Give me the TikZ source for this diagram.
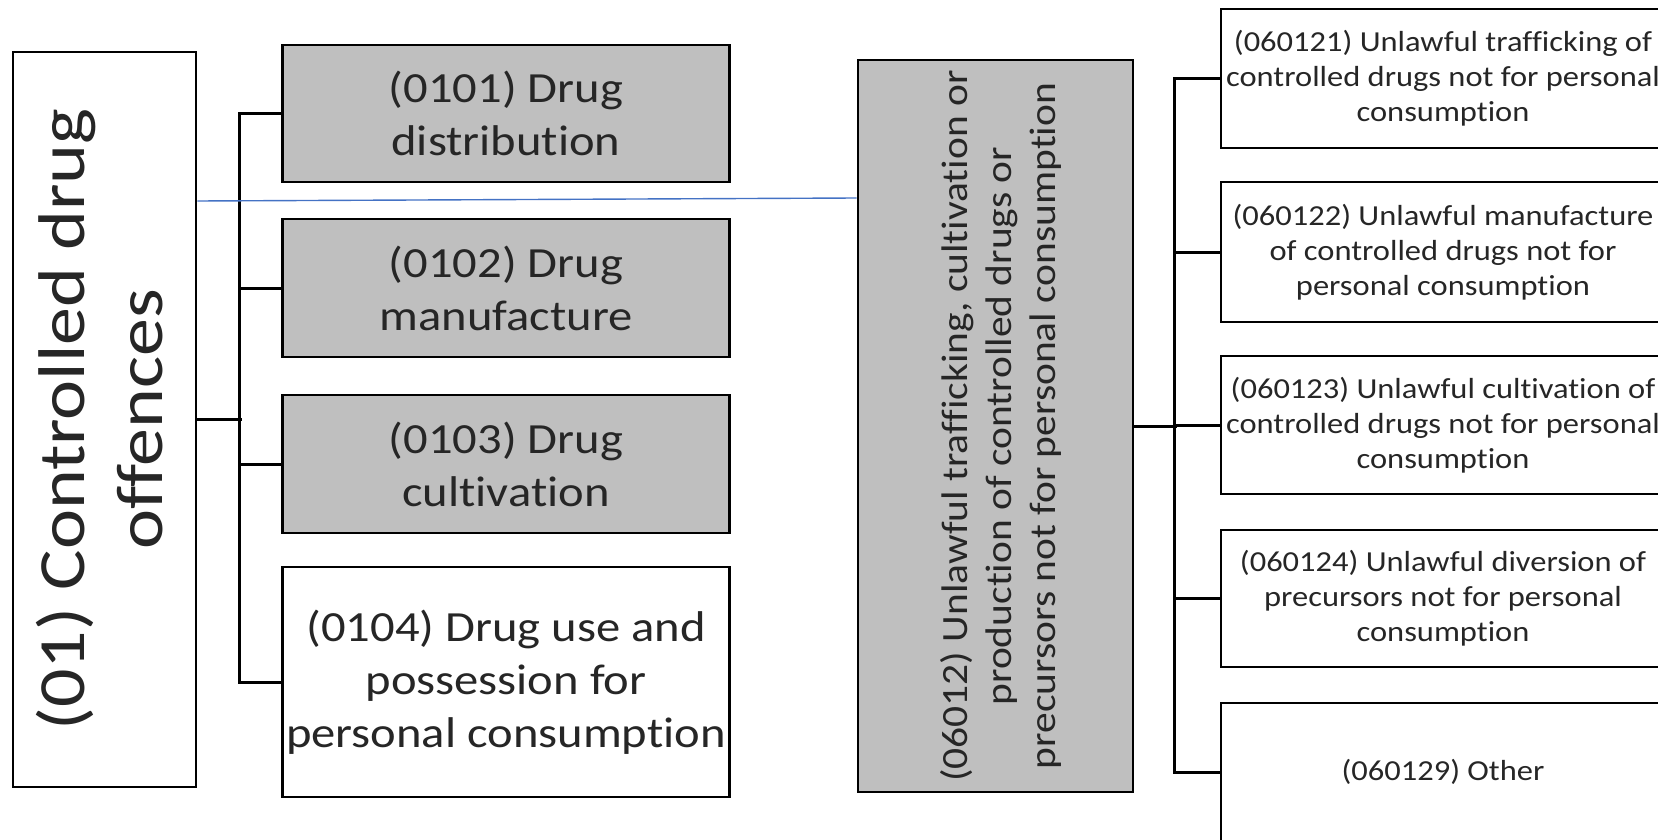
\documentclass[tikz,border=0pt]{standalone}
\usepackage{fontspec}
\setmainfont{Carlito}[Ligatures={NoCommon,NoContextual}]
\newfontfamily\fbig{Carlito}[FakeStretch=1.15,Ligatures={NoCommon,NoContextual}]
\newfontfamily\fmidcol{Carlito}[FakeStretch=1.13,Ligatures={NoCommon,NoContextual}]
\newfontfamily\frot{Carlito}[FakeStretch=1.12,Ligatures={NoCommon,NoContextual}]
\newfontfamily\fright{Carlito}[FakeStretch=1.12,Ligatures={NoCommon,NoContextual}]
\definecolor{boxgray}{HTML}{BFBFBF}
\definecolor{linkblue}{HTML}{4472C4}
\tikzset{
  box/.style={draw=black, line width=2.8pt, inner sep=0pt, align=center, text=black!85},
  graybox/.style={box, fill=boxgray},
  whitebox/.style={box, fill=white},
  tree/.style={draw=black, line width=3pt},
  bluelink/.style={draw=linkblue, line width=1.4pt},
  coltext/.style={font=\fmidcol\fontsize{43}{53}\selectfont},
  righttext/.style={font=\fright\fontsize{29}{35}\selectfont},
}
\begin{document}
\begin{tikzpicture}[x=1pt,y=-1pt]
\useasboundingbox (0,0) rectangle (1658,840);
\clip (0,0) rectangle (1658,840);
% left big box
\node[whitebox, minimum width=183pt, minimum height=735pt] (big) at (104.5,419.5)
  {\hspace*{6pt}\rotatebox{90}{\fbig\fontsize{66}{78}\selectfont\begin{tabular}{@{}c@{}}(01) Controlled drug\\offences\end{tabular}}};
% second column
\node[graybox, coltext, minimum width=447pt, minimum height=137pt] (b1) at (506,113.5) {(0101) Drug\\distribution};
\node[graybox, coltext, minimum width=447pt, minimum height=138pt] (b2) at (506,288) {(0102) Drug\\manufacture};
\node[graybox, coltext, minimum width=447pt, minimum height=138pt] (b3) at (506,464) {(0103) Drug\\cultivation};
\node[whitebox, coltext, minimum width=447pt, minimum height=230pt] (b4) at (506,682) {(0104) Drug use and\\possession for\\personal consumption};
% middle rotated box
\node[graybox, minimum width=275pt, minimum height=732pt] (mid) at (995.5,426)
  {\hspace*{14pt}\rotatebox{90}{\frot\fontsize{37}{44}\selectfont\begin{tabular}{@{}c@{}}(06012) Unlawful trafficking, cultivation or\\production of controlled drugs or\\precursors not for personal consumption\end{tabular}}};
% right column
\node[whitebox, righttext, minimum width=444pt, minimum height=139pt] (r1) at (1443,78.5) {(060121) Unlawful trafficking of\\controlled drugs not for personal\\consumption};
\node[whitebox, righttext, minimum width=444pt, minimum height=140pt] (r2) at (1443,252) {(060122) Unlawful manufacture\\of controlled drugs not for\\personal consumption};
\node[whitebox, righttext, minimum width=444pt, minimum height=138pt] (r3) at (1443,425) {(060123) Unlawful cultivation of\\controlled drugs not for personal\\consumption};
\node[whitebox, righttext, minimum width=444pt, minimum height=137pt] (r4) at (1443,598.5) {(060124) Unlawful diversion of\\precursors not for personal\\consumption};
\node[whitebox, righttext, minimum width=444pt, minimum height=138pt] (r5) at (1443,772) {(060129) Other};
% left tree
\draw[tree] (big.east) -- ++(45,0);
\draw[tree] (b1.west) -- ++(-42,0) |- (b4.west);
\draw[tree] (b2.west) -- ++(-42,0);
\draw[tree] (b3.west) -- ++(-42,0);
% right tree
\draw[tree] (mid.east) -- ++(43,0);
\draw[tree] (r1.west) -- ++(-45,0) |- (r5.west);
\draw[tree] (r2.west) -- ++(-45,0);
\draw[tree] (r3.west) -- ++(-45,0);
\draw[tree] (r4.west) -- ++(-45,0);
% blue link
\draw[bluelink] (big.east |- 0,201) -- (mid.west |- 0,198);
\end{tikzpicture}
\end{document}
